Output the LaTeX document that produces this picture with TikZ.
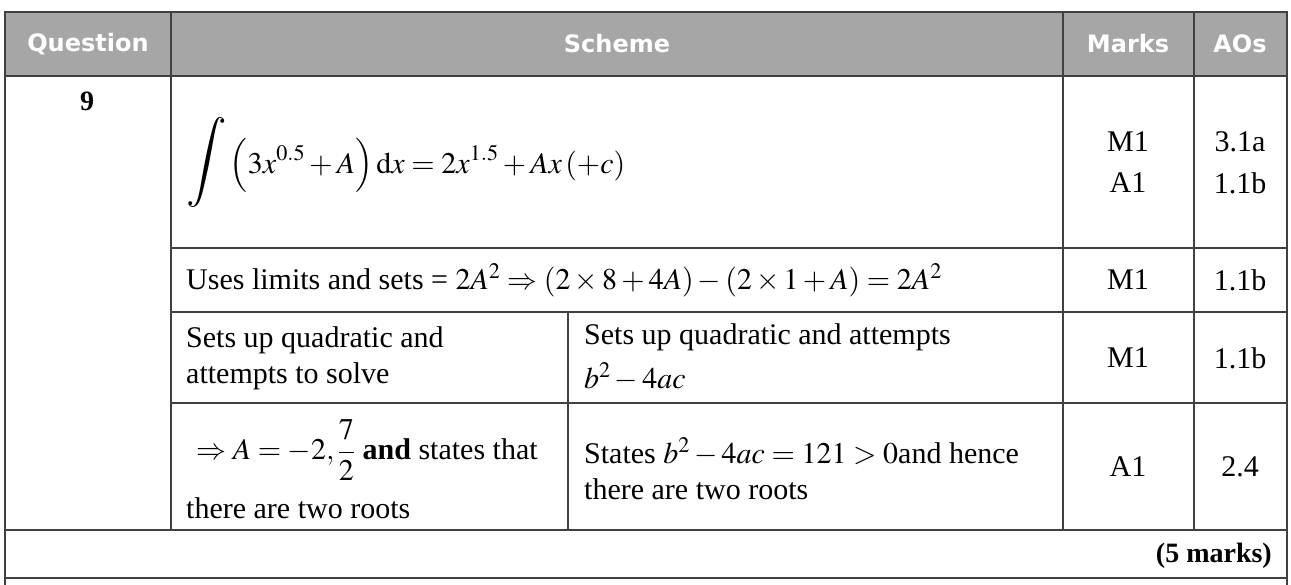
\documentclass[tikz,border=0pt]{standalone}
\usepackage{amsmath}
\usepackage{mathptmx}
\usepackage[no-math]{fontspec}
\setmainfont{Liberation Serif}
\newfontfamily\hdr{DejaVu Sans}
\tikzset{grid/.style={draw=black!75,line width=1.2pt},
 cell/.style={inner sep=0pt,font=\fontsize{30}{34}\selectfont},
 head/.style={inner sep=0pt,text=white,font=\hdr\bfseries\fontsize{24}{28}\selectfont}}
\begin{document}
\begin{tikzpicture}[x=1pt,y=-1pt]
\useasboundingbox (0,0) rectangle (1291,585);
\fill[black!35] (5,12) rectangle (1287,76);
\draw[grid] (5,12) rectangle (1287,76);
\foreach \x in {171,1063,1194} \draw[grid] (\x,12) -- (\x,530);
\draw[grid] (5,76) -- (5,585);
\draw[grid] (1287,76) -- (1287,585);
\foreach \y in {248,312,403} \draw[grid] (171,\y) -- (1287,\y);
\draw[grid] (568,312) -- (568,530);
\draw[grid] (5,530) -- (1287,530);
\draw[grid] (5,578) -- (1287,578);
\node[head] (h1) at (88,44) {Question};
\node[head] (h2) at (617,44) {Scheme};
\node[head] (h3) at (1128,44) {Marks};
\node[head] (h4) at (1240,44) {AOs};
\node[cell,font=\bfseries\fontsize{28}{30}\selectfont] (q) at (87,101) {9};
\node[cell,anchor=west] (f1) at (186,162) {$\displaystyle\scalebox{1.5}{$\displaystyle\int$}\left(3x^{0.5}+A\right)\mathrm{d}x=2x^{1.5}+Ax\left(+c\right)$};
\node[cell] (m1) at (1128,142) {M1};
\node[cell] (m2) at (1128,183) {A1};
\node[cell] (a1) at (1240,142) {3.1a};
\node[cell] (a2) at (1240,183) {1.1b};
\node[cell,anchor=west] (f2) at (186,280) {Uses limits and sets = $2A^2\Rightarrow\left(2\times8+4A\right)-\left(2\times1+A\right)=2A^2$};
\node[cell] (m3) at (1128,280) {M1};
\node[cell] (a3) at (1240,280) {1.1b};
\node[cell,anchor=west] (l3a) at (186,340) {Sets up quadratic and};
\node[cell,anchor=west] (l3b) at (186,376) {attempts to solve};
\node[cell,anchor=west] (r3a) at (584,337) {Sets up quadratic and attempts};
\node[cell,anchor=west] (r3b) at (584,377) {$b^2-4ac$};
\node[cell] (m4) at (1128,358) {M1};
\node[cell] (a4) at (1240,358) {1.1b};
\node[cell,anchor=west] (l4a) at (196,450) {$\Rightarrow A=-2,\dfrac{7}{2}$ \textbf{and} states that};
\node[cell,anchor=west] (l4b) at (186,508) {there are two roots};
\node[cell,anchor=west] (r4a) at (584,452) {States $b^2-4ac=121>0$and hence};
\node[cell,anchor=west] (r4b) at (584,489) {there are two roots};
\node[cell] (m5) at (1128,467) {A1};
\node[cell] (a5) at (1240,467) {2.4};
\node[cell,anchor=east,font=\bfseries\fontsize{28}{30}\selectfont] (tot) at (1272,556) {(5 marks)};
\end{tikzpicture}
\end{document}
